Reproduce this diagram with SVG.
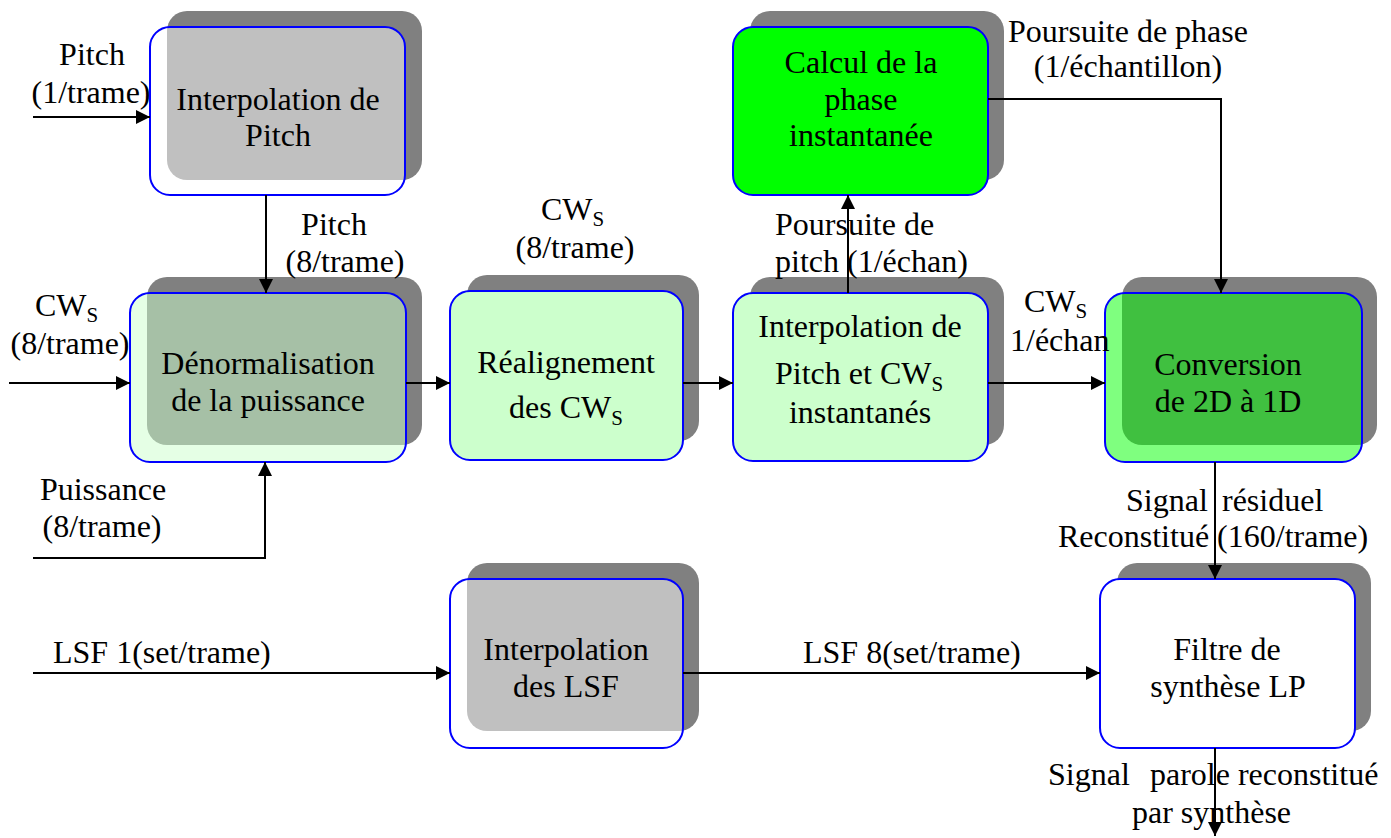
<svg xmlns="http://www.w3.org/2000/svg" width="1391" height="838" viewBox="0 0 1391 838">
  <defs>
    <marker id="arrow" viewBox="0 0 10 10" refX="10" refY="5" markerWidth="15" markerHeight="14" markerUnits="userSpaceOnUse" orient="auto">
      <path d="M0,0 L10,5 L0,10 z" fill="#000"/>
    </marker>
    <style>
      .lbl { font-size: 32px; fill: #000; }
      .mid { text-anchor: middle; }
      .sub { font-size: 21px; }
      .shadow { fill: #808080; }
      .box { stroke: #0000FF; stroke-width: 2; }
      .white50 { fill: #FFFFFF; fill-opacity: 0.5; }
      .white { fill: #FFFFFF; }
      .pale50 { fill: #CCFFCC; fill-opacity: 0.5; }
      .pale { fill: #CCFFCC; }
      .green { fill: #00FF00; }
      .green50 { fill: #00FF00; fill-opacity: 0.5; }
      .wire { fill: none; stroke: #000; stroke-width: 2; }
    </style>
  </defs>

  <rect width="1391" height="838" fill="#FFFFFF"/>

  <g font-family="Liberation Serif, Times New Roman, serif">

  <!-- Interpolation de Pitch -->
  <g id="interp-pitch">
    <rect class="shadow" x="167" y="11" width="255" height="169" rx="20"/>
    <rect class="box white50" x="150" y="27" width="255" height="168" rx="20"/>
    <text class="lbl mid" x="278" y="110">Interpolation de</text>
    <text class="lbl mid" x="278" y="146">Pitch</text>
  </g>

  <!-- Dénormalisation de la puissance -->
  <g id="denorm">
    <rect class="shadow" x="147" y="277" width="275" height="168" rx="20"/>
    <rect class="box pale50" x="130" y="293" width="276" height="169" rx="20"/>
    <text class="lbl mid" x="268" y="374">Dénormalisation</text>
    <text class="lbl mid" x="268" y="411">de la puissance</text>
  </g>

  <!-- Réalignement des CWs -->
  <g id="realign">
    <rect class="shadow" x="467" y="275" width="232" height="166" rx="20"/>
    <rect class="box pale" x="450" y="291" width="233" height="169" rx="20"/>
    <text class="lbl mid" x="566" y="373">Réalignement</text>
    <text class="lbl" x="509" y="418">des CW<tspan class="sub" dy="7">S</tspan></text>
  </g>

  <!-- Interpolation de Pitch et CWs instantanés -->
  <g id="interp-cw">
    <rect class="shadow" x="750" y="277" width="254" height="168" rx="20"/>
    <rect class="box pale" x="733" y="293" width="255" height="168" rx="20"/>
    <text class="lbl mid" x="860" y="337">Interpolation de</text>
    <text class="lbl" x="775" y="384">Pitch et CW<tspan class="sub" dy="7">S</tspan></text>
    <text class="lbl mid" x="860" y="423">instantanés</text>
  </g>

  <!-- Calcul de la phase instantanée -->
  <g id="phase">
    <rect class="shadow" x="750" y="11" width="254" height="169" rx="20"/>
    <rect class="box green" x="733" y="27" width="255" height="168" rx="20"/>
    <text class="lbl mid" x="861" y="73">Calcul de la</text>
    <text class="lbl mid" x="861" y="110">phase</text>
    <text class="lbl mid" x="861" y="146">instantanée</text>
  </g>

  <!-- Conversion de 2D à 1D -->
  <g id="conversion">
    <rect class="shadow" x="1122" y="277" width="255" height="168" rx="20"/>
    <rect class="box green50" x="1105" y="293" width="257" height="169" rx="20"/>
    <text class="lbl mid" x="1228" y="375">Conversion</text>
    <text class="lbl mid" x="1228" y="412">de 2D à 1D</text>
  </g>

  <!-- Interpolation des LSF -->
  <g id="interp-lsf">
    <rect class="shadow" x="467" y="563" width="232" height="168" rx="20"/>
    <rect class="box white50" x="450" y="579" width="233" height="169" rx="20"/>
    <text class="lbl mid" x="566" y="660">Interpolation</text>
    <text class="lbl mid" x="566" y="697">des LSF</text>
  </g>

  <!-- Filtre de synthèse LP -->
  <g id="filtre">
    <rect class="shadow" x="1117" y="563" width="254" height="168" rx="20"/>
    <rect class="box white" x="1100" y="579" width="255" height="169" rx="20"/>
    <text class="lbl mid" x="1227" y="660">Filtre de</text>
    <text class="lbl mid" x="1228" y="697">synthèse LP</text>
  </g>

  <!-- Connectors and their labels -->
  <g id="connectors">
    <line class="wire" x1="33" y1="117" x2="150" y2="117" marker-end="url(#arrow)"/>
    <line class="wire" x1="266" y1="195" x2="266" y2="293" marker-end="url(#arrow)"/>
    <line class="wire" x1="9" y1="383" x2="130" y2="383" marker-end="url(#arrow)"/>
    <polyline class="wire" points="33,558 265,558 265,462" marker-end="url(#arrow)"/>
    <line class="wire" x1="406" y1="383" x2="450" y2="383" marker-end="url(#arrow)"/>
    <line class="wire" x1="683" y1="383" x2="733" y2="383" marker-end="url(#arrow)"/>
    <line class="wire" x1="848" y1="293" x2="848" y2="195" marker-end="url(#arrow)"/>
    <polyline class="wire" points="988,99 1221,99 1221,293" marker-end="url(#arrow)"/>
    <line class="wire" x1="988" y1="383" x2="1105" y2="383" marker-end="url(#arrow)"/>
    <line class="wire" x1="1215" y1="462" x2="1215" y2="579" marker-end="url(#arrow)"/>
    <line class="wire" x1="33" y1="673" x2="450" y2="673" marker-end="url(#arrow)"/>
    <line class="wire" x1="683" y1="673" x2="1100" y2="673" marker-end="url(#arrow)"/>
    <line class="wire" x1="1215" y1="748" x2="1215" y2="836" marker-end="url(#arrow)"/>

    <text class="lbl mid" x="92" y="65">Pitch</text>
    <text class="lbl mid" x="91" y="103">(1/trame)</text>

    <text class="lbl mid" x="334" y="235">Pitch</text>
    <text class="lbl mid" x="345" y="272">(8/trame)</text>

    <text class="lbl" x="35" y="316">CW<tspan class="sub" dy="6">S</tspan></text>
    <text class="lbl mid" x="70" y="354">(8/trame)</text>

    <text class="lbl mid" x="103" y="500">Puissance</text>
    <text class="lbl mid" x="102" y="537">(8/trame)</text>

    <text class="lbl" x="541" y="220">CW<tspan class="sub" dy="6">S</tspan></text>
    <text class="lbl mid" x="575" y="258">(8/trame)</text>

    <text class="lbl" x="775" y="235">Poursuite de</text>
    <text class="lbl" x="775" y="272">pitch (1/échan)</text>

    <text class="lbl mid" x="1128" y="42">Poursuite de phase</text>
    <text class="lbl mid" x="1128" y="77">(1/échantillon)</text>

    <text class="lbl" x="1024" y="312">CW<tspan class="sub" dy="6">S</tspan></text>
    <text class="lbl" x="1010" y="351">1/échan</text>

    <text class="lbl" x="1126" y="511">Signal</text>
    <text class="lbl" x="1222" y="511">résiduel</text>
    <text class="lbl" x="1058" y="547">Reconstitué (160/trame)</text>

    <text class="lbl" x="53" y="663">LSF 1(set/trame)</text>
    <text class="lbl" x="803" y="663">LSF 8(set/trame)</text>

    <text class="lbl" x="1048" y="785">Signal</text>
    <text class="lbl" x="1150" y="785">parole reconstitué</text>
    <text class="lbl" x="1132" y="823">par synthèse</text>
  </g>

  </g>
</svg>
